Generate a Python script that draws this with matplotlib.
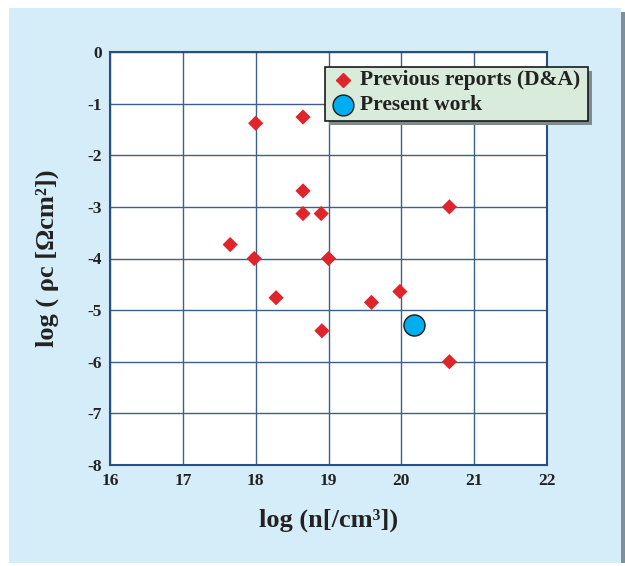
import matplotlib
matplotlib.use("Agg")
import matplotlib.pyplot as plt
from matplotlib.patches import Rectangle
from matplotlib.lines import Line2D

prev_x = [18.0, 18.65, 18.65, 18.65, 18.9, 17.65, 17.98, 19.0, 18.28, 18.91, 19.59, 19.98, 20.66, 20.66]
prev_y = [-1.38, -1.26, -2.69, -3.13, -3.13, -3.73, -4.0, -4.0, -4.76, -5.40, -4.85, -4.64, -3.0, -6.0]
pres_x = [20.18]
pres_y = [-5.28]
xticks = [16, 17, 18, 19, 20, 21, 22]
yticks = [0, -1, -2, -3, -4, -5, -6, -7, -8]
legend_labels = ["Previous reports (D&A)", "Present work"]

plt.rcParams['font.family'] = ['Liberation Serif', 'DejaVu Serif']
plt.rcParams['font.weight'] = 'bold'
FAM = ['Liberation Serif', 'DejaVu Serif']

W, H = 625, 566
fig = plt.figure(figsize=(W/100, H/100), dpi=100)
fig.patch.set_facecolor('white')
# background panel
fig.patches.append(Rectangle((621/W, 1 - 563/H), 4/W, (563-12)/H, transform=fig.transFigure,
                             facecolor='#7d9099', edgecolor='none', zorder=-10))
fig.patches.append(Rectangle((9/W, 1 - 563/H), (621-9)/W, (563-8)/H, transform=fig.transFigure,
                             facecolor='#d5ecf9', edgecolor='none', zorder=-10))

ax = fig.add_axes([110/W, 1 - 465/H, (547-110)/W, (465-52)/H])
ax.set_facecolor('white')
ax.set_xlim(16, 22)
ax.set_ylim(-8, 0)
ax.set_xticks(xticks)
ax.set_yticks(yticks)
ax.set_xticklabels([str(t) for t in xticks], fontsize=12.5, fontweight='bold', color='#222222')
ax.set_yticklabels([str(t) for t in yticks], fontsize=12.5, fontweight='bold', color='#222222')
ax.tick_params(length=0, pad=6)
ax.grid(True, color='#3d5f88', linewidth=1.0)
ax.set_axisbelow(True)
for s in ax.spines.values():
    s.set_color('#2a4f7f')
    s.set_linewidth(1.5)

ax.scatter(prev_x, prev_y, marker='D', s=60, color='#e0242b', edgecolors='none', zorder=3)
ax.scatter(pres_x, pres_y, marker='o', s=230, color='#00aeef', edgecolors='#1a1a1a', linewidth=1.0, zorder=3)

ax.set_xlabel("log (n[/cm³])", fontsize=19, fontweight='bold', color='#222222', labelpad=14, family=FAM)
ax.set_ylabel("log ( ρc [Ωcm²])", fontsize=19, fontweight='bold', color='#222222', labelpad=20, family=FAM)

# legend box with shadow
lx0, ly0, lx1, ly1 = 325, 67, 588, 121
fig.patches.append(Rectangle(((lx0+4)/W, 1 - (ly1+4)/H), (lx1-lx0)/W, (ly1-ly0)/H, transform=fig.transFigure,
                             facecolor='#7f8c8c', edgecolor='none', zorder=5))
fig.patches.append(Rectangle((lx0/W, 1 - ly1/H), (lx1-lx0)/W, (ly1-ly0)/H, transform=fig.transFigure,
                             facecolor='#d9ebda', edgecolor='#1a1a1a', linewidth=1.2, zorder=6))
fig.lines.append(Line2D([343/W], [1 - 80/H], marker='D', markersize=7, color='#e0242b',
                        linestyle='none', transform=fig.transFigure, zorder=7))
fig.lines.append(Line2D([343/W], [1 - 105/H], marker='o', markersize=15, markerfacecolor='#00aeef',
                        markeredgecolor='#1a1a1a', linestyle='none', transform=fig.transFigure, zorder=7))
fig.text(360/W, 1 - 80/H, legend_labels[0], fontsize=15.5, fontweight='bold', va='center', color='#222222', zorder=8,
         family=FAM)
fig.text(360/W, 1 - 105/H, legend_labels[1], fontsize=15.5, fontweight='bold', va='center', color='#222222', zorder=8,
         family=FAM)

fig.savefig("out.png", dpi=100)
